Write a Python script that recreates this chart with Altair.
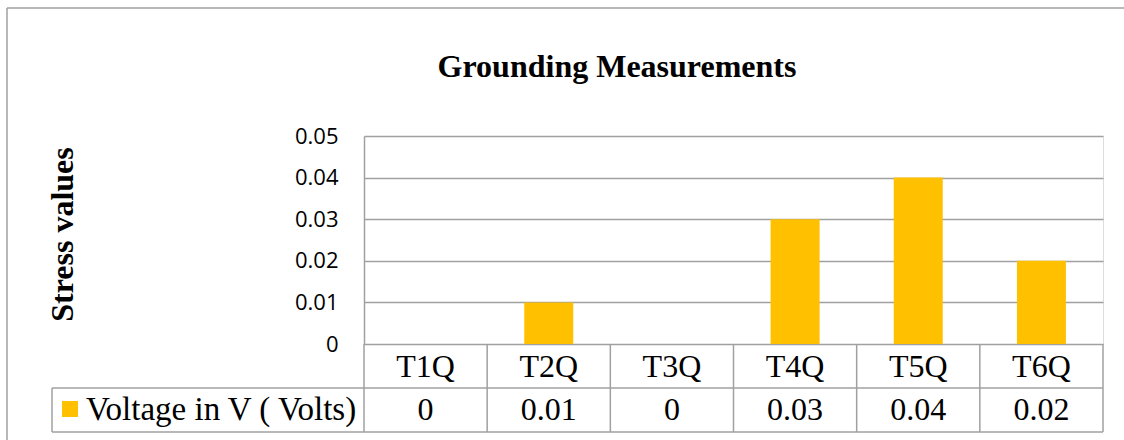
import altair as alt
import pandas as pd

categories = ["T1Q", "T2Q", "T3Q", "T4Q", "T5Q", "T6Q"]
voltage = [0, 0.01, 0, 0.03, 0.04, 0.02]
y_ticks = [0, 0.01, 0.02, 0.03, 0.04, 0.05]
series_name = "Voltage in V ( Volts)"
chart_title = "Grounding Measurements"
y_title = "Stress values"

df = pd.DataFrame({"cat": categories, "value": voltage})
one = pd.DataFrame({"k": [0]})

W, H = 739, 208
GOLD = "#FFC000"
LINE = "#a0a0a0"
SERIF = "Liberation Serif"
FS = 32
xs = alt.Scale(domain=categories, paddingInner=0, paddingOuter=0)

base = alt.Chart(df)

bars = base.mark_bar(color=GOLD, size=49).encode(
    x=alt.X("cat:N", scale=xs, axis=None),
    y=alt.Y(
        "value:Q",
        scale=alt.Scale(domain=[0, 0.05], nice=False, zero=True),
        axis=alt.Axis(
            values=y_ticks, format=".2~f", grid=True, gridColor=LINE, gridWidth=1.3,
            domain=True, domainColor=LINE, domainWidth=1.5, ticks=False, labelPadding=26,
            labelFont="Open Sans", labelFontSize=22, labelColor="black",
            title=y_title, titleFont=SERIF, titleFontSize=FS, titleFontWeight="bold",
            titleX=-302, titleY=98, titleAngle=270, titleAlign="center",
            titleBaseline="middle", titleColor="black",
        ),
    ),
)

cat_text = base.mark_text(font=SERIF, fontSize=FS, baseline="alphabetic", color="black").encode(
    x=alt.X("cat:N", scale=xs, axis=None),
    y=alt.value(241),
    text="cat:N",
)
val_text = base.mark_text(font=SERIF, fontSize=FS, baseline="alphabetic", color="black").encode(
    x=alt.X("cat:N", scale=xs, axis=None),
    y=alt.value(284),
    text=alt.Text("value:Q", format=".2~f"),
)

col_lines = base.mark_rule(color=LINE, strokeWidth=1.5).encode(
    x=alt.X("cat:N", scale=xs, bandPosition=0, axis=None),
    y=alt.value(208),
    y2=alt.value(296),
)

def rule(**enc):
    return alt.Chart(one).mark_rule(color=LINE, strokeWidth=1.5).encode(**enc)

right_edge = rule(x=alt.value(W), y=alt.value(208), y2=alt.value(296))
row_mid = rule(x=alt.value(-312), x2=alt.value(W), y=alt.value(252))
row_bot = rule(x=alt.value(-312), x2=alt.value(W), y=alt.value(296))
legend_left = rule(x=alt.value(-312), y=alt.value(252), y2=alt.value(296))
border_left = rule(x=alt.value(-357), y=alt.value(-128), y2=alt.value(320))
border_top = rule(x=alt.value(-357), x2=alt.value(780), y=alt.value(-128))

swatch = alt.Chart(one).mark_square(color=GOLD, size=256, opacity=1, filled=True).encode(
    x=alt.value(-294), y=alt.value(273)
)
legend_text = alt.Chart(one).mark_text(
    font=SERIF, fontSize=33, align="left", baseline="alphabetic", color="black"
).encode(x=alt.value(-278), y=alt.value(284), text=alt.value(series_name))

title_text = alt.Chart(one).mark_text(
    font=SERIF, fontSize=FS, fontWeight="bold", align="center", baseline="alphabetic", color="black"
).encode(x=alt.value(253), y=alt.value(-59), text=alt.value(chart_title))

chart = alt.layer(
    bars, col_lines, right_edge, row_mid, row_bot, legend_left,
    border_left, border_top, cat_text, val_text, swatch, legend_text, title_text,
).properties(
    width=W,
    height=H,
    autosize="none",
    padding={"left": 364, "top": 136, "right": 21, "bottom": 96},
).configure_view(stroke=None).configure(background="white")

chart.save("out.html", embed_options={"renderer": "svg", "actions": False})
